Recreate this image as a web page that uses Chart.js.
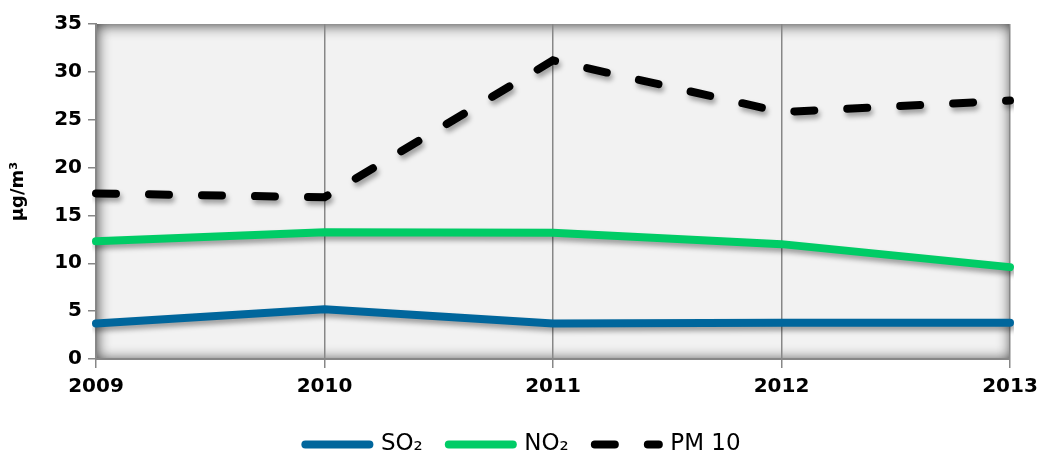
<!DOCTYPE html>
<html>
<head>
<meta charset="utf-8">
<script src="https://cdn.jsdelivr.net/npm/chart.js@4"></script>
<style>
  html, body { margin: 0; padding: 0; background: #fff; }
  .chart-box { width: 1038px; height: 459px; }
</style>
</head>
<body>
<div class="chart-box"><canvas id="myChart"></canvas></div>
<script>
const years = ["2009", "2010", "2011", "2012", "2013"];
const so2Values = [3.7, 5.2, 3.7, 3.8, 3.8];
const no2Values = [12.3, 13.25, 13.2, 12.0, 9.6];
const pm10Values = [17.3, 16.9, 31.2, 25.8, 27.0];

const axisGray = "#878787";
const fontFamily = "'DejaVu Sans', sans-serif";

// gray plot area with an inner shadow on its edges
const plotBackground = {
  id: "plotBackground",
  beforeDraw(chart) {
    const { ctx, chartArea } = chart;
    const { left, top, right, bottom } = chartArea;
    const w = right - left;
    const h = bottom - top;

    ctx.save();
    ctx.fillStyle = "#f2f2f2";
    ctx.fillRect(left, top, w, h);

    ctx.beginPath();
    ctx.rect(left, top, w, h);
    ctx.clip();

    ctx.shadowColor = "rgba(0, 0, 0, 0.75)";
    ctx.shadowBlur = 14;
    ctx.shadowOffsetX = 1;
    ctx.shadowOffsetY = 1;
    ctx.fillStyle = "#000";
    ctx.beginPath();
    ctx.rect(left - 60, top - 60, w + 120, h + 120);
    ctx.rect(left, top, w, h);
    ctx.fill("evenodd");
    ctx.restore();
  },
};

// soft drop shadow under each line
const lineShadow = {
  id: "lineShadow",
  beforeDatasetDraw(chart) {
    const ctx = chart.ctx;
    ctx.save();
    ctx.shadowColor = "rgba(0, 0, 0, 0.35)";
    ctx.shadowBlur = 5;
    ctx.shadowOffsetX = 2;
    ctx.shadowOffsetY = 4;
  },
  afterDatasetDraw(chart) {
    chart.ctx.restore();
  },
};

const chartElementContext = document.getElementById("myChart").getContext("2d");

const myChart = new Chart(chartElementContext, {
  type: "line",
  data: {
    labels: years,
    datasets: [
      {
        label: "SO₂",
        data: so2Values,
        borderColor: "#00669c",
        backgroundColor: "#00669c",
        borderWidth: 8,
        borderCapStyle: "round",
      },
      {
        label: "NO₂",
        data: no2Values,
        borderColor: "#00cc66",
        backgroundColor: "#00cc66",
        borderWidth: 8,
        borderCapStyle: "round",
      },
      {
        label: "PM 10",
        data: pm10Values,
        borderColor: "#000000",
        backgroundColor: "#000000",
        borderWidth: 8,
        borderDash: [20, 33],
        borderCapStyle: "round",
      },
    ],
  },
  options: {
    responsive: true,
    maintainAspectRatio: false,
    animation: false,
    layout: {
      padding: { top: 24, right: 0, left: 8, bottom: -7 },
    },
    elements: {
      point: { radius: 0, hoverRadius: 0 },
      line: { tension: 0 },
    },
    scales: {
      x: {
        offset: false,
        afterFit(scale) {
          scale.height = 48;
          scale.paddingRight = 28;
        },
        grid: {
          color: axisGray,
          lineWidth: 1.5,
          tickLength: 9,
          drawOnChartArea: true,
        },
        border: { color: axisGray, width: 2 },
        ticks: {
          color: "#000",
          padding: 7,
          maxRotation: 0,
          font: { family: fontFamily, size: 20, weight: "bold" },
        },
      },
      y: {
        min: 0,
        max: 35,
        afterFit(scale) {
          scale.width = 88;
        },
        grid: {
          color: axisGray,
          lineWidth: 1.5,
          tickLength: 8,
          drawOnChartArea: false,
        },
        border: { color: axisGray, width: 2 },
        ticks: {
          stepSize: 5,
          color: "#000",
          padding: 6,
          font: { family: fontFamily, size: 20, weight: "bold" },
        },
        title: {
          display: true,
          text: "µg/m³",
          color: "#000",
          padding: { top: 0, bottom: 2 },
          font: { family: fontFamily, size: 18, weight: "bold" },
        },
      },
    },
    plugins: {
      legend: {
        position: "bottom",
        labels: {
          usePointStyle: true,
          pointStyle: "line",
          pointStyleWidth: 64,
          boxWidth: 64,
          boxHeight: 8,
          padding: 26,
          color: "#000",
          font: { family: fontFamily, size: 23 },
          generateLabels(chart) {
            const items = Chart.defaults.plugins.legend.labels.generateLabels(chart);
            items.forEach((item) => {
              const dataset = chart.data.datasets[item.datasetIndex];
              item.lineDash = dataset.borderDash || [];
              item.lineCap = "round";
              item.lineWidth = 8;
            });
            return items;
          },
        },
      },
      tooltip: { enabled: false },
    },
  },
  plugins: [plotBackground, lineShadow],
});
</script>
</body>
</html>
